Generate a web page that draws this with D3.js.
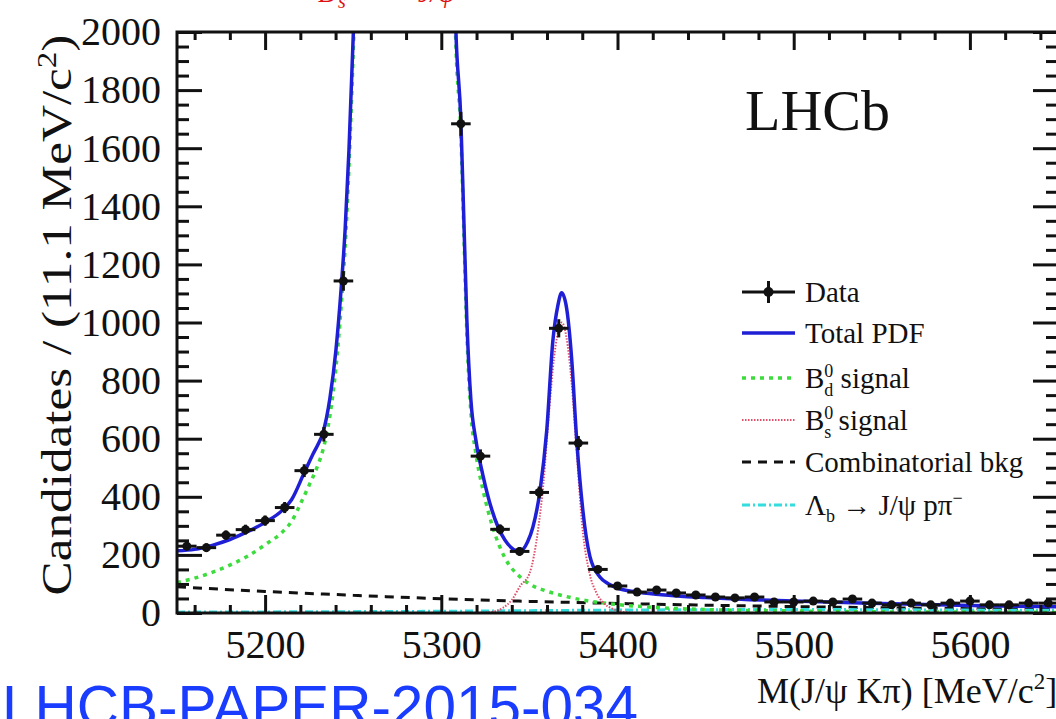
<!DOCTYPE html>
<html>
<head>
<meta charset="utf-8">
<script src="https://cdn.jsdelivr.net/npm/d3@7"></script>
<style>
  body { margin: 0; background: #fff; }
  svg text { font-family: "Liberation Serif", "Times New Roman", serif; }
</style>
</head>
<body>
<div id="chart"></div>
<script>
// histogram: 45 bins of 11.1 MeV between 5150 and 5650
const binLow = 5150, binHigh = 5650, nBins = 45;
const counts = [230, 225, 268, 287, 318, 363, 490, 615, 1143, 3000,
    12000, 28000, 14000, 4000, 1684, 540, 288, 212, 415, 980,
    585, 150, 93, 72, 79, 69, 62, 55, 52, 55,
    38, 38, 41, 38, 48, 34, 28, 34, 28, 34,
    41, 28, 28, 34, 34];

// fit components (mass, candidates)
const totalM = [5150, 5160, 5170, 5180, 5190, 5200, 5210, 5215, 5222, 5227, 5230, 5232.8, 5236.8, 5240.2, 5243.1, 5245.4, 5247.6, 5250.1, 5254, 5260, 5280, 5300, 5305, 5308.3, 5311.1, 5312.8, 5314.5, 5316.8, 5319.6, 5323.6, 5328.7, 5336.1, 5344.6, 5349, 5352, 5356, 5359.8, 5363.3, 5366.2, 5368.3, 5371.1, 5374, 5376.8, 5380.4, 5384.3, 5390, 5395, 5400, 5410, 5425, 5450, 5475, 5500, 5550, 5600, 5650];
const totalV = [214, 219, 233, 253, 280, 312, 355, 390, 480, 545, 580, 620, 740, 905, 1112, 1318, 1594, 2000, 2800, 5000, 30000, 5000, 2900, 2000, 1697, 1353, 1009, 733, 596, 475, 355, 251, 212, 245, 296, 420, 626, 936, 1060, 1102, 1050, 874, 600, 350, 196, 124, 100, 86, 73, 63, 53, 46, 41, 33, 26, 21];

const bdM = [5150, 5160, 5170, 5180, 5190, 5200, 5210, 5215, 5220, 5225, 5230, 5232.8, 5236.8, 5240.2, 5243.1, 5245.4, 5247.6, 5250.1, 5254, 5260, 5280, 5300, 5305, 5308.3, 5311.1, 5312.8, 5314.5, 5316.8, 5319.6, 5323.6, 5328.7, 5336.1, 5344.6, 5350, 5360, 5370, 5380, 5390, 5400, 5425, 5450, 5500, 5550, 5600, 5650];
const bdV = [105, 120, 140, 165, 195, 235, 280, 315, 375, 440, 510, 560, 680, 845, 1050, 1255, 1535, 1945, 2750, 5000, 30000, 5000, 2850, 1950, 1650, 1310, 965, 690, 550, 425, 305, 190, 125, 100, 75, 58, 45, 36, 29, 18, 12, 7, 4, 3, 2];

const bsM = [5320, 5328, 5335, 5340, 5345, 5350, 5355, 5358, 5361, 5364, 5366, 5368.4, 5371, 5374, 5377, 5380, 5384, 5388, 5392, 5397, 5402, 5410];
const bsV = [0, 3, 18, 45, 95, 135, 290, 450, 680, 880, 960, 1000, 950, 790, 540, 300, 140, 70, 35, 15, 5, 0];

const combM = [5150, 5200, 5250, 5300, 5350, 5400, 5450, 5500, 5550, 5600, 5650];
const combV = [90, 74, 61, 49, 40, 33, 27, 22, 18, 15, 12];

const lbM = [5150, 5300, 5400, 5500, 5600, 5650];
const lbV = [3, 6, 10, 12, 10, 9];

const xMajor = [5200, 5300, 5400, 5500, 5600];
const yMajor = [0, 200, 400, 600, 800, 1000, 1200, 1400, 1600, 1800, 2000];

const W = 1056, H = 719;
const pLeft = 177, pRight = 1058, pTop = 32, pBottom = 613;

const svg = d3.select("#chart").append("svg")
    .attr("width", W)
    .attr("height", H);
svg.append("rect").attr("width", W).attr("height", H).attr("fill", "#fff");

const x = d3.scaleLinear().domain([binLow, binHigh]).range([pLeft, pRight]);
const y = d3.scaleLinear().domain([0, 2000]).range([pBottom, pTop]);

svg.append("clipPath").attr("id", "plotclip")
    .append("rect")
    .attr("x", pLeft).attr("y", pTop)
    .attr("width", pRight - pLeft).attr("height", pBottom - pTop);

// curves
const plot = svg.append("g").attr("clip-path", "url(#plotclip)");
const line = d3.line()
    .x(d => x(d[0]))
    .y(d => y(d[1]))
    .curve(d3.curveMonotoneX);

function curve(ms, vs, color, width, dash) {
    plot.append("path")
        .datum(ms.map((m, i) => [m, vs[i]]))
        .attr("d", line)
        .attr("fill", "none")
        .attr("stroke", color)
        .attr("stroke-width", width)
        .attr("stroke-dasharray", dash);
}

curve(combM, combV, "#111", 3, "9,7");
curve(lbM, lbV, "#33dddd", 3, "8,3,2,3");
curve(bdM, bdV, "#3ddc3d", 3.5, "4,5");
curve(bsM, bsV, "#e0506a", 2, "1.5,1.5");
curve(totalM, totalV, "#1f1fd6", 3.5, null);

// data points with errors
const bw = (binHigh - binLow) / nBins;
const pts = counts.map((c, i) => ({ m: binLow + bw * (i + 0.5), n: c }));
const dots = plot.append("g").selectAll("g")
    .data(pts)
    .enter().append("g");
dots.append("line")
    .attr("x1", d => x(d.m - bw / 2)).attr("x2", d => x(d.m + bw / 2))
    .attr("y1", d => y(d.n)).attr("y2", d => y(d.n))
    .attr("stroke", "#111").attr("stroke-width", 3);
dots.append("line")
    .attr("x1", d => x(d.m)).attr("x2", d => x(d.m))
    .attr("y1", d => y(d.n + Math.sqrt(d.n))).attr("y2", d => y(d.n - Math.sqrt(d.n)))
    .attr("stroke", "#111").attr("stroke-width", 3);
dots.append("circle")
    .attr("cx", d => x(d.m)).attr("cy", d => y(d.n))
    .attr("r", 4.5).attr("fill", "#111");

// axes, ticks pointing inwards
function styleAxis(g) {
    g.attr("font-family", "Liberation Serif");
    g.select(".domain").remove();
    g.selectAll(".tick line").attr("stroke", "#111").attr("stroke-width", 3);
    g.selectAll("text").attr("font-size", 40).attr("fill", "#111");
}
const xMinor = d3.range(5160, 5650, 20).filter(v => v % 100 !== 0);
const yMinor = d3.range(50, 2000, 50).filter(v => v % 200 !== 0);

svg.append("g").attr("transform", `translate(0,${pBottom})`)
    .call(d3.axisBottom(x).tickValues(xMajor).tickSize(-18).tickPadding(17).tickFormat(d3.format("d")))
    .call(styleAxis);
svg.append("g").attr("transform", `translate(0,${pBottom})`)
    .call(d3.axisBottom(x).tickValues(xMinor).tickSize(-8).tickFormat(""))
    .call(styleAxis);
svg.append("g").attr("transform", `translate(0,${pTop})`)
    .call(d3.axisTop(x).tickValues(xMajor).tickSize(-18).tickFormat(""))
    .call(styleAxis);
svg.append("g").attr("transform", `translate(0,${pTop})`)
    .call(d3.axisTop(x).tickValues(xMinor).tickSize(-8).tickFormat(""))
    .call(styleAxis);
svg.append("g").attr("transform", `translate(${pLeft},0)`)
    .call(d3.axisLeft(y).tickValues(yMajor).tickSize(-25).tickPadding(16).tickFormat(d3.format("d")))
    .call(styleAxis);
svg.append("g").attr("transform", `translate(${pLeft},0)`)
    .call(d3.axisLeft(y).tickValues(yMinor).tickSize(-12).tickFormat(""))
    .call(styleAxis);
svg.append("g").attr("transform", `translate(${pRight},0)`)
    .call(d3.axisRight(y).tickValues(yMajor).tickSize(-25).tickFormat(""))
    .call(styleAxis);
svg.append("g").attr("transform", `translate(${pRight},0)`)
    .call(d3.axisRight(y).tickValues(yMinor).tickSize(-12).tickFormat(""))
    .call(styleAxis);

svg.append("rect")
    .attr("x", pLeft).attr("y", pTop)
    .attr("width", pRight - pLeft).attr("height", pBottom - pTop)
    .attr("fill", "none").attr("stroke", "#111").attr("stroke-width", 3);

// axis titles
const yt = svg.append("text")
    .attr("transform", "translate(71,315) rotate(-90) scale(1.22,1)")
    .attr("text-anchor", "middle")
    .attr("font-size", 42)
    .attr("fill", "#111");
yt.append("tspan").text("Candidates / (11.1 MeV/c");
yt.append("tspan").attr("dy", -15).attr("font-size", 27).text("2");
yt.append("tspan").attr("dy", 15).text(")");

const xt = svg.append("text")
    .attr("x", 757).attr("y", 703)
    .attr("font-size", 36)
    .attr("fill", "#111");
xt.append("tspan").text("M(J/ψ Kπ) [MeV/c");
xt.append("tspan").attr("dy", -14).attr("font-size", 23).text("2");
xt.append("tspan").attr("dy", 14).text("]");

svg.append("text")
    .attr("x", 745).attr("y", 130)
    .attr("font-size", 58)
    .attr("fill", "#111")
    .text("LHCb");

// legend
const legY = [292, 333, 378, 420, 462, 505];
const lx0 = 742, lx1 = 795, ltx = 805;
const leg = svg.append("g");

// Data
leg.append("line").attr("x1", lx0).attr("x2", lx1).attr("y1", legY[0]).attr("y2", legY[0])
    .attr("stroke", "#111").attr("stroke-width", 3);
leg.append("line").attr("x1", (lx0 + lx1) / 2).attr("x2", (lx0 + lx1) / 2)
    .attr("y1", legY[0] - 11).attr("y2", legY[0] + 11)
    .attr("stroke", "#111").attr("stroke-width", 3);
leg.append("circle").attr("cx", (lx0 + lx1) / 2).attr("cy", legY[0]).attr("r", 5).attr("fill", "#111");

const legLines = [
    { row: 1, color: "#1f1fd6", width: 3.5, dash: null },
    { row: 2, color: "#3ddc3d", width: 3.5, dash: "4,5" },
    { row: 3, color: "#e0506a", width: 2, dash: "1.5,1.5" },
    { row: 4, color: "#111", width: 3, dash: "9,7" },
    { row: 5, color: "#33dddd", width: 3, dash: "8,3,2,3" }
];
legLines.forEach(d => {
    leg.append("line").attr("x1", lx0).attr("x2", lx1)
        .attr("y1", legY[d.row]).attr("y2", legY[d.row])
        .attr("stroke", d.color).attr("stroke-width", d.width)
        .attr("stroke-dasharray", d.dash);
});

function legText(row) {
    return leg.append("text").attr("x", ltx).attr("y", legY[row] + 10)
        .attr("font-size", 29).attr("fill", "#111");
}
legText(0).text("Data");
legText(1).text("Total PDF");
let t = legText(2);
t.append("tspan").text("B");
t.append("tspan").attr("dy", -11).attr("font-size", 18).text("0");
t.append("tspan").attr("dx", -9).attr("dy", 19).attr("font-size", 18).text("d");
t.append("tspan").attr("dy", -8).text(" signal");
t = legText(3);
t.append("tspan").text("B");
t.append("tspan").attr("dy", -11).attr("font-size", 18).text("0");
t.append("tspan").attr("dx", -9).attr("dy", 19).attr("font-size", 18).text("s");
t.append("tspan").attr("dy", -8).text(" signal");
legText(4).text("Combinatorial bkg");
t = legText(5);
t.append("tspan").text("Λ");
t.append("tspan").attr("dy", 7).attr("font-size", 18).text("b");
t.append("tspan").attr("dy", -7).text(" → J/ψ pπ");
t.append("tspan").attr("dy", -11).attr("font-size", 18).text("−");

// cut-off red heading at the very top
const rt = svg.append("text")
    .attr("y", 2)
    .attr("font-size", 28)
    .attr("font-style", "italic")
    .attr("fill", "#e01010");
rt.append("tspan").attr("x", 318).text("B");
rt.append("tspan").attr("x", 338).attr("y", 8).attr("font-size", 20).text("s");
rt.append("tspan").attr("x", 418).attr("y", 2).text("J/ψ");

// paper reference, bottom left
svg.append("text")
    .attr("x", 2).attr("y", 727)
    .attr("font-size", 60)
    .attr("textLength", 636)
    .attr("lengthAdjust", "spacingAndGlyphs")
    .attr("fill", "#1a3cff")
    .style("font-family", "'Liberation Sans', Arial, sans-serif")
    .text("LHCB-PAPER-2015-034");
</script>
</body>
</html>
